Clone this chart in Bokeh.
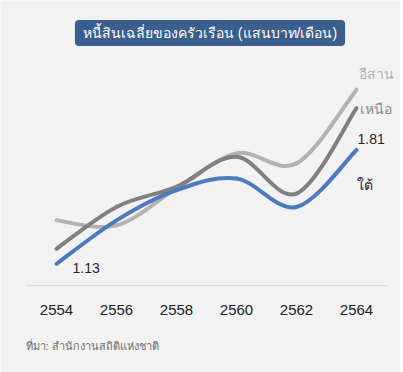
from bokeh.plotting import figure
from bokeh.models import Range1d, FixedTicker, Label, ColumnDataSource, Title
from bokeh.embed import file_html
from bokeh.resources import INLINE

# ---- data ----
years = [2554, 2556, 2558, 2560, 2562, 2564]
tick_labels = ["2554", "2556", "2558", "2560", "2562", "2564"]
isan = [1.39, 1.36, 1.58, 1.79, 1.73, 2.17]
north = [1.22, 1.47, 1.59, 1.77, 1.55, 2.06]
south = [1.13, 1.39, 1.57, 1.64, 1.47, 1.81]
series_names = ["อีสาน", "เหนือ", "ใต้"]
title_text = "หนี้สินเฉลี่ยของครัวเรือน (แสนบาท/เดือน)"
source_text = "ที่มา: สำนักงานสถิติแห่งชาติ"
baseline_value = 1.0

BG = "#f2f2f2"
FONT = "Liberation Sans"

p = figure(width=400, height=372, output_backend="svg", toolbar_location=None,
           x_range=Range1d(2552.1333, 2565.4667), y_range=Range1d(0.9414, 2.7023),
           min_border_left=0, min_border_right=0, min_border_top=0, min_border_bottom=76,
           background_fill_color=BG, border_fill_color=BG, outline_line_color=None)
p.grid.visible = False
p.yaxis.visible = False
ax = p.xaxis[0]
ax.ticker = FixedTicker(ticks=years)
ax.major_label_overrides = {y: t for y, t in zip(years, tick_labels)}
ax.axis_line_color = None
ax.major_tick_line_color = None
ax.minor_tick_line_color = None
ax.major_label_text_font = FONT
ax.major_label_text_font_size = "15px"
ax.major_label_text_color = "#222222"
ax.major_label_standoff = 3

# source note below the axis
p.add_layout(Title(text=source_text, align="left", offset=25, standoff=41,
                   text_font=FONT, text_font_size="11px", text_font_style="normal",
                   text_color="#6e6e6e"), "below")

# baseline
p.segment(x0=[years[0] - 1], x1=[years[-1] + 1.01], y0=[baseline_value], y1=[baseline_value],
          line_color="#d9d9d9", line_width=1)


def smooth_segments(xs, ys):
    """Catmull-Rom spline expressed as cubic Bezier segments."""
    n = len(xs)
    px = [xs[0]] + list(xs) + [xs[-1]]
    py = [ys[0]] + list(ys) + [ys[-1]]
    d = dict(x0=[], y0=[], x1=[], y1=[], cx0=[], cy0=[], cx1=[], cy1=[])
    for i in range(1, n):
        x0, y0 = px[i], py[i]
        x1, y1 = px[i + 1], py[i + 1]
        d["x0"].append(x0); d["y0"].append(y0)
        d["x1"].append(x1); d["y1"].append(y1)
        d["cx0"].append(x0 + (px[i + 1] - px[i - 1]) / 6)
        d["cy0"].append(y0 + (py[i + 1] - py[i - 1]) / 6)
        d["cx1"].append(x1 - (px[i + 2] - px[i]) / 6)
        d["cy1"].append(y1 - (py[i + 2] - py[i]) / 6)
    return ColumnDataSource(d)


for vals, col in [(isan, "#b2b2b2"), (north, "#808080"), (south, "#4a7bbf")]:
    p.bezier(x0="x0", y0="y0", x1="x1", y1="y1", cx0="cx0", cy0="cy0", cx1="cx1", cy1="cy1",
             source=smooth_segments(years, vals), line_color=col, line_width=4, line_cap="round")

# end labels
lab_kw = dict(text_font=FONT, text_font_size="14px", text_baseline="middle")
p.add_layout(Label(x=years[-1], y=isan[-1], x_offset=3, y_offset=16, text=series_names[0],
                   text_color="#b0b0b0", **lab_kw))
p.add_layout(Label(x=years[-1], y=north[-1], x_offset=4, y_offset=-1, text=series_names[1],
                   text_color="#8a8a8a", **lab_kw))
p.add_layout(Label(x=years[-1], y=south[-1], x_offset=1, y_offset=11, text=f"{south[-1]:.2f}",
                   text_color="#1f2533", **lab_kw))
p.add_layout(Label(x=years[-1], y=south[-1], x_offset=1, y_offset=-35, text=series_names[2],
                   text_color="#1f2533", **lab_kw))
p.add_layout(Label(x=years[0], y=south[0], x_offset=16, y_offset=-4, text=f"{south[0]:.2f}",
                   text_color="#1f2533", **lab_kw))

# title box
p.add_layout(Label(x=209.5, y=262.5, x_units="screen", y_units="screen", text=title_text,
                   text_align="center", text_baseline="middle", text_color="white",
                   text_font=FONT, text_font_size="14px",
                   background_fill_color="#3b5e8c", border_radius=4, padding=(8, 5)))

open("out.html", "w").write(file_html(p, INLINE))
